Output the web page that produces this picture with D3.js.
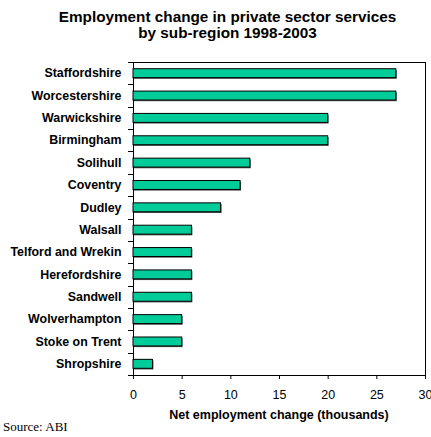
<!DOCTYPE html>
<html>
<head>
<meta charset="utf-8">
<script src="https://cdn.jsdelivr.net/npm/d3@7"></script>
<style>
  html, body { margin: 0; padding: 0; background: #fff; }
  svg { display: block; }
</style>
</head>
<body>
<svg id="chart" width="431" height="437"></svg>
<script>
// Sub-regions, top to bottom
const regions = [
  "Staffordshire", "Worcestershire", "Warwickshire", "Birmingham", "Solihull",
  "Coventry", "Dudley", "Walsall", "Telford and Wrekin", "Herefordshire",
  "Sandwell", "Wolverhampton", "Stoke on Trent", "Shropshire"
];
// Net employment change, thousands
const change = [27, 27, 20, 20, 12, 11, 9, 6, 6, 6, 6, 5, 5, 2];
const xTicks = [0, 5, 10, 15, 20, 25, 30];
const titleLines = ["Employment change in private sector services", "by sub-region 1998-2003"];

const svg = d3.select("#chart");
const plot = { left: 133, right: 425, top: 62, bottom: 375 };
const sans = "'Liberation Sans', Arial, Helvetica, sans-serif";

const x = d3.scaleLinear().domain([0, 30]).range([plot.left, plot.right]);
const slots = d3.scaleBand().domain(regions).range([plot.top, plot.bottom]).padding(0);
const y = d3.scaleBand().domain(regions).range([plot.top, plot.bottom])
  .paddingInner(0.6).paddingOuter(0.3);

// Title
svg.append("g").selectAll("text").data(titleLines).join("text")
  .attr("x", 227.5).attr("y", (d, i) => 21.5 + i * 16.5)
  .attr("text-anchor", "middle")
  .style("font-family", sans).style("font-weight", "bold").style("font-size", "15.3px")
  .text(d => d);

// Plot frame
svg.append("rect")
  .attr("x", plot.left).attr("y", plot.top)
  .attr("width", plot.right - plot.left).attr("height", plot.bottom - plot.top)
  .attr("fill", "none").attr("stroke", "#000").attr("stroke-width", 1)
  .attr("shape-rendering", "crispEdges");

// Bars with a thin drop shadow
const bars = svg.append("g");
bars.selectAll("rect.shadow").data(regions).join("rect")
  .attr("class", "shadow")
  .attr("x", x(0) + 1)
  .attr("y", d => y(d) + 1.2)
  .attr("width", (d, i) => x(change[i]) - x(0))
  .attr("height", y.bandwidth())
  .attr("fill", "#555");
bars.selectAll("rect.bar").data(regions).join("rect")
  .attr("class", "bar")
  .attr("x", x(0))
  .attr("y", d => y(d))
  .attr("width", (d, i) => x(change[i]) - x(0))
  .attr("height", y.bandwidth())
  .attr("fill", "#00cc99")
  .attr("stroke", "#000").attr("stroke-width", 1);

// Category axis: ticks on slot boundaries, labels centred in slots
const bounds = regions.map(r => slots(r)).concat([plot.bottom]);
svg.append("g").selectAll("line").data(bounds).join("line")
  .attr("x1", plot.left - 5).attr("x2", plot.left)
  .attr("y1", d => Math.round(d) + 0.5).attr("y2", d => Math.round(d) + 0.5)
  .attr("stroke", "#000");
svg.append("g").selectAll("text").data(regions).join("text")
  .attr("x", 121.5)
  .attr("y", d => slots(d) + slots.bandwidth() / 2 + 4.2)
  .attr("text-anchor", "end")
  .style("font-family", sans).style("font-weight", "bold").style("font-size", "12.4px")
  .text(d => d);

// Value axis
const xAxis = svg.append("g")
  .attr("transform", `translate(0,${plot.bottom})`)
  .call(d3.axisBottom(x).tickValues(xTicks).tickSize(4).tickPadding(11).tickFormat(d3.format("d")));
xAxis.select(".domain").remove();
xAxis.selectAll("text")
  .style("font-family", sans).style("font-size", "12.5px").attr("fill", "#000");

svg.append("text")
  .attr("x", (plot.left + plot.right) / 2).attr("y", 419)
  .attr("text-anchor", "middle")
  .style("font-family", sans).style("font-weight", "bold").style("font-size", "12.5px")
  .text("Net employment change (thousands)");

svg.append("text")
  .attr("x", 3).attr("y", 431)
  .style("font-family", "'Liberation Serif', 'Times New Roman', serif").style("font-size", "13px")
  .text("Source: ABI");
</script>
</body>
</html>
